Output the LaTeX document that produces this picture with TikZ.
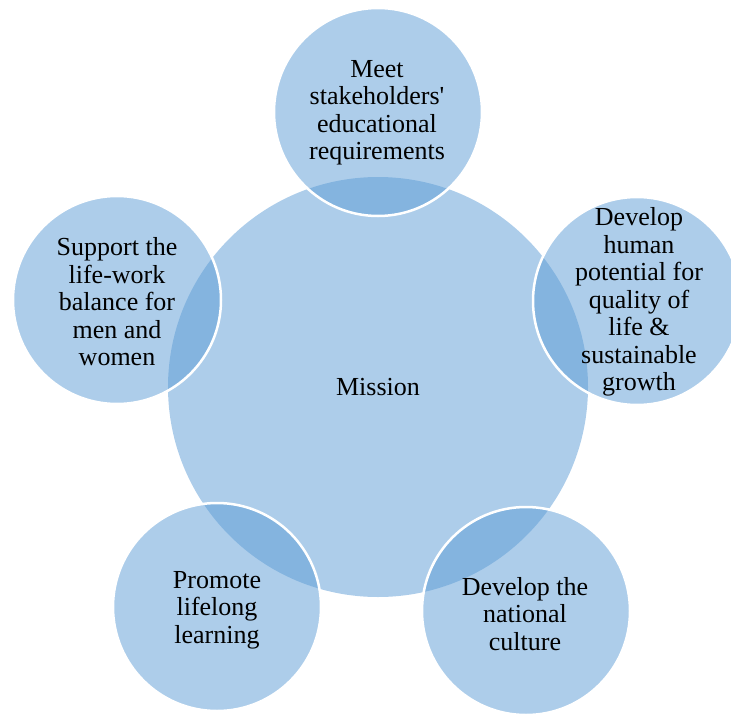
\documentclass[tikz,border=0pt]{standalone}
\usepackage{fontspec}
\newfontfamily\diagfont{Liberation Serif}
\definecolor{accent}{HTML}{5B9BD5}
\tikzset{
  bigcirc/.style={circle, fill=accent, fill opacity=0.5, minimum size=420pt, inner sep=0pt},
  smallcirc/.style={circle, fill=accent, fill opacity=0.5, draw=white, line width=2.5pt, minimum size=208pt, inner sep=0pt},
  lbl/.style={align=center, font=\diagfont\fontsize{26}{27.5}\selectfont, text=black, inner sep=0pt}
}
\begin{document}
\begin{tikzpicture}[x=1pt,y=-1pt]
\clip (0,0) rectangle (731,715);
\node[bigcirc] (mission) at (378,387) {};
\node[smallcirc] (c1) at (378,112) {};
\node[smallcirc] (c2) at (637,301) {};
\node[smallcirc] (c3) at (526,611) {};
\node[smallcirc] (c4) at (217,607) {};
\node[smallcirc] (c5) at (117,300) {};
\node[lbl] (tm) at (mission) {Mission};
\node[lbl] (t1) at (377,113) {Meet\\stakeholders'\\educational\\requirements};
\node[lbl] (t2) at (639,302) {Develop\\human\\potential for\\quality of\\life \&\\sustainable\\growth};
\node[lbl] (t3) at (525,614) {Develop the\\national\\culture};
\node[lbl] (t4) at (217,610) {Promote\\lifelong\\learning};
\node[lbl] (t5) at (117,302) {Support the\\life-work\\balance for\\men and\\women};
\end{tikzpicture}
\end{document}
